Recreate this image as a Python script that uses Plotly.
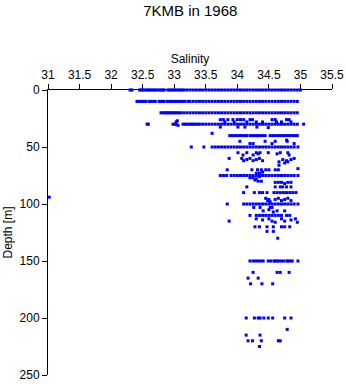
import plotly.graph_objects as go

# ---- data: salinity values along dense depth levels ----
depth_levels = [0, 10, 20, 30, 40, 50, 75, 100, 150, 200]

sal_d0 = [32.30, 32.33, 32.45, 32.48, 32.50, 32.54, 32.57, 32.60, 32.63, 32.66, 32.69, 32.72,
          32.76, 32.79, 32.82, 32.84, 32.90, 32.93, 32.96, 32.99, 33.02, 33.06, 33.09, 33.12,
          33.15, 33.20, 33.25, 33.30, 33.35, 33.40, 33.45, 33.50, 33.55, 33.60, 33.65, 33.70,
          33.75, 33.80, 33.85, 33.90, 33.95, 34.00, 34.05, 34.10, 34.15, 34.20, 34.25, 34.30,
          34.35, 34.40, 34.45, 34.50, 34.55, 34.60, 34.65, 34.70, 34.75, 34.80, 34.85, 34.90,
          34.95, 35.00]
sal_d10 = [32.41, 32.44, 32.47, 32.50, 32.53, 32.55, 32.60, 32.63, 32.66, 32.70, 32.76, 32.79,
           32.82, 32.84, 32.89, 32.93, 32.95, 32.98, 33.01, 33.04, 33.08, 33.11, 33.14, 33.17,
           33.22, 33.25, 33.30, 33.35, 33.40, 33.45, 33.50, 33.55, 33.60, 33.65, 33.70, 33.75,
           33.80, 33.85, 33.90, 33.95, 34.00, 34.05, 34.10, 34.15, 34.20, 34.25, 34.30, 34.35,
           34.40, 34.45, 34.50, 34.55, 34.60, 34.65, 34.70, 34.75, 34.80, 34.85, 34.90, 34.95]
sal_d20 = [32.79, 32.82, 32.85, 32.88, 32.90, 32.93, 32.96, 32.98, 33.01, 33.04, 33.07, 33.10,
           33.15, 33.20, 33.25, 33.30, 33.35, 33.40, 33.45, 33.50, 33.55, 33.60, 33.65, 33.70,
           33.75, 33.80, 33.85, 33.90, 33.95, 34.00, 34.05, 34.10, 34.15, 34.20, 34.25, 34.30,
           34.35, 34.40, 34.45, 34.50, 34.55, 34.60, 34.65, 34.70, 34.75, 34.80, 34.85, 34.90,
           34.95]
sal_d30 = [32.57, 32.59, 32.98, 33.01, 33.03, 33.14, 33.17, 33.20, 33.24, 33.27, 33.30, 33.33,
           33.37, 33.40, 33.45, 33.50, 33.55, 33.60, 33.65, 33.70, 33.75, 33.80, 33.85, 33.90,
           33.95, 34.00, 34.05, 34.10, 34.15, 34.20, 34.25, 34.30, 34.35, 34.40, 34.45, 34.50,
           34.55, 34.60, 34.65, 34.70, 34.75, 34.80, 34.85, 34.90, 34.95, 35.05]
sal_d40 = [33.88, 33.92, 33.96, 34.00, 34.04, 34.08, 34.12, 34.15, 34.20, 34.24, 34.28, 34.32,
           34.36, 34.40, 34.44, 34.52, 34.56, 34.60, 34.64, 34.68, 34.72, 34.76, 34.80, 34.84,
           34.88, 34.92, 34.95]
sal_d50 = [33.27, 33.47, 33.60, 33.65, 33.70, 33.75, 33.80, 33.85, 33.90, 33.95, 34.00, 34.05,
           34.10, 34.15, 34.20, 34.25, 34.30, 34.35, 34.40, 34.45, 34.50, 34.55, 34.60, 34.65,
           34.70, 34.75, 34.80, 34.85, 34.90, 34.96]
sal_d75 = [33.73, 33.78, 33.83, 33.90, 33.95, 34.00, 34.05, 34.10, 34.15, 34.20, 34.25, 34.30,
           34.35, 34.40, 34.45, 34.50, 34.55, 34.60, 34.65, 34.70, 34.75, 34.80, 34.85, 34.90,
           34.96]
sal_d100 = [33.84, 34.10, 34.15, 34.20, 34.25, 34.30, 34.35, 34.40, 34.45, 34.50, 34.55, 34.60,
            34.65, 34.70, 34.75, 34.80, 34.85, 34.90, 34.96]
sal_d150 = [34.20, 34.25, 34.29, 34.33, 34.37, 34.41, 34.49, 34.53, 34.58, 34.60, 34.63, 34.66,
            34.70, 34.74, 34.79, 34.80, 34.84, 34.87, 34.96]
sal_d200 = [34.14, 34.27, 34.33, 34.36, 34.42, 34.49, 34.56, 34.75, 34.85]

# ---- data: scattered individual observations ----
scat_sal = [33.03, 33.06, 33.05, 33.73, 33.78, 33.85, 33.93, 34.00, 34.05, 34.10, 34.20, 34.24,
            34.55, 34.60, 34.78, 34.82, 33.73, 34.01, 34.12, 34.31, 34.49, 33.80, 33.95, 34.15,
            34.30, 34.40, 34.62, 34.70, 34.85,
            33.60,
            34.04, 34.44, 34.60, 34.79, 34.20, 34.25, 34.55, 34.90, 34.78,
            34.01, 34.09, 34.15, 34.25, 34.30, 34.33, 34.36, 34.49, 34.63, 34.68, 34.80, 34.82,
            33.87, 34.07, 34.10, 34.15, 34.20, 34.25, 34.30, 34.35, 34.40, 34.66, 34.72, 34.78,
            34.85, 34.80, 34.90, 34.75,
            34.66, 34.96,
            33.84, 34.23, 34.32, 34.38, 34.45, 34.50, 34.60, 34.65, 34.40, 34.30, 34.35,
            34.20, 34.25, 34.30, 34.35, 34.28,
            34.33, 34.38, 34.60, 34.65, 34.70, 34.75, 34.80, 34.85,
            34.15, 34.60, 34.68, 34.72, 34.78, 34.85,
            34.10, 34.27, 34.35, 34.40, 34.47, 34.58, 34.63, 34.68, 34.73, 34.78, 34.83, 34.88,
            34.93,
            34.45, 34.48, 34.60, 34.65, 34.70, 34.75, 34.80, 34.85,
            34.50, 34.52, 34.55, 34.50, 34.57,
            34.26, 34.36, 34.52,
            34.41, 34.63, 34.75,
            34.20, 34.30, 34.35, 34.40, 34.45, 34.50, 34.55, 34.60, 34.65, 34.70, 34.78, 34.83,
            34.30, 34.40, 34.50, 34.55, 34.60, 34.70, 34.75, 34.85, 34.92, 34.95, 33.87,
            34.28, 34.35, 34.47, 34.57, 34.70, 34.75, 34.83,
            34.47, 34.57,
            34.64,
            34.25, 34.63, 34.68, 34.82,
            34.17, 34.33,
            34.21, 34.39, 34.56,
            34.79,
            34.14, 34.36,
            34.17, 34.24, 34.38, 34.65, 34.68,
            34.35,
            31.02]
scat_depth = [28, 31, 27, 26, 26, 26, 26, 26, 26, 26, 26, 26,
              26, 26, 26, 26, 32.5, 32.5, 32.5, 32.5, 33, 28, 28, 28,
              28, 28, 28, 28, 28,
              38,
              45, 45, 45, 45, 47, 47, 47, 47, 44,
              55, 57, 55, 57, 55, 56, 55, 55, 56, 55, 55, 57,
              60, 60, 62, 61, 60, 62, 61, 60, 62, 63, 61, 62,
              61, 63, 60, 64,
              66, 69,
              70, 70, 70, 70, 70, 70, 70, 70, 72, 73, 73,
              77, 77, 78, 76, 79,
              80, 80, 81, 81, 81, 82, 81, 81,
              85, 85, 85, 85, 85, 85,
              90, 90, 90, 90, 90, 90, 90, 90, 90, 90, 90, 90,
              90,
              95, 97, 96, 95, 97, 96, 95, 97,
              96, 98, 103, 105, 107,
              103, 103, 103,
              106, 106, 106,
              110, 110, 110, 110, 110, 110, 110, 110, 110, 110, 110, 110,
              113, 114, 113, 115, 116, 113, 115, 114, 113, 116, 115,
              120, 120, 120, 120, 120, 120, 120,
              124, 124,
              130,
              160, 160, 160, 160,
              165, 165,
              170, 170, 170,
              210,
              215, 215,
              220, 220, 220, 220, 220,
              225,
              94]

rows = [sal_d0, sal_d10, sal_d20, sal_d30, sal_d40, sal_d50, sal_d75, sal_d100, sal_d150, sal_d200]

xs, ys = [], []
for d, row in zip(depth_levels, rows):
    xs.extend(row)
    ys.extend([d] * len(row))
xs.extend(scat_sal)
ys.extend(scat_depth)

FONT = "Liberation Sans, Arial, Helvetica, sans-serif"

fig = go.Figure()
fig.add_trace(go.Scatter(
    x=xs, y=ys, mode="markers",
    marker=dict(symbol="square", size=3, color="#0000ff", line=dict(width=0)),
    cliponaxis=False, showlegend=False, hoverinfo="skip",
))

fig.update_layout(
    width=346, height=384,
    margin=dict(l=48, r=14, t=90, b=9),
    paper_bgcolor="white", plot_bgcolor="white",
    font=dict(family=FONT, size=12, color="black"),
    title=dict(text="7KMB in 1968", x=0.55, xanchor="center", y=0.985, yanchor="top",
               font=dict(size=15, family=FONT, color="black")),
    xaxis=dict(
        side="top", range=[31, 35.5], dtick=0.5, tick0=31, automargin=False,
        showgrid=False, zeroline=False, showline=True, linecolor="black", linewidth=1,
        ticks="outside", ticklen=5, tickcolor="black", tickwidth=1,
        title=dict(text="Salinity", standoff=2, font=dict(size=12)),
        tickfont=dict(size=12), layer="below traces",
    ),
    yaxis=dict(
        range=[250, 0], dtick=50, tick0=0, automargin=False,
        showgrid=False, zeroline=False, showline=True, linecolor="black", linewidth=1,
        ticks="outside", ticklen=5, tickcolor="black", tickwidth=1,
        title=dict(text="Depth [m]", standoff=4, font=dict(size=12)),
        tickfont=dict(size=12), layer="below traces",
    ),
)

fig.write_html("out.html")
